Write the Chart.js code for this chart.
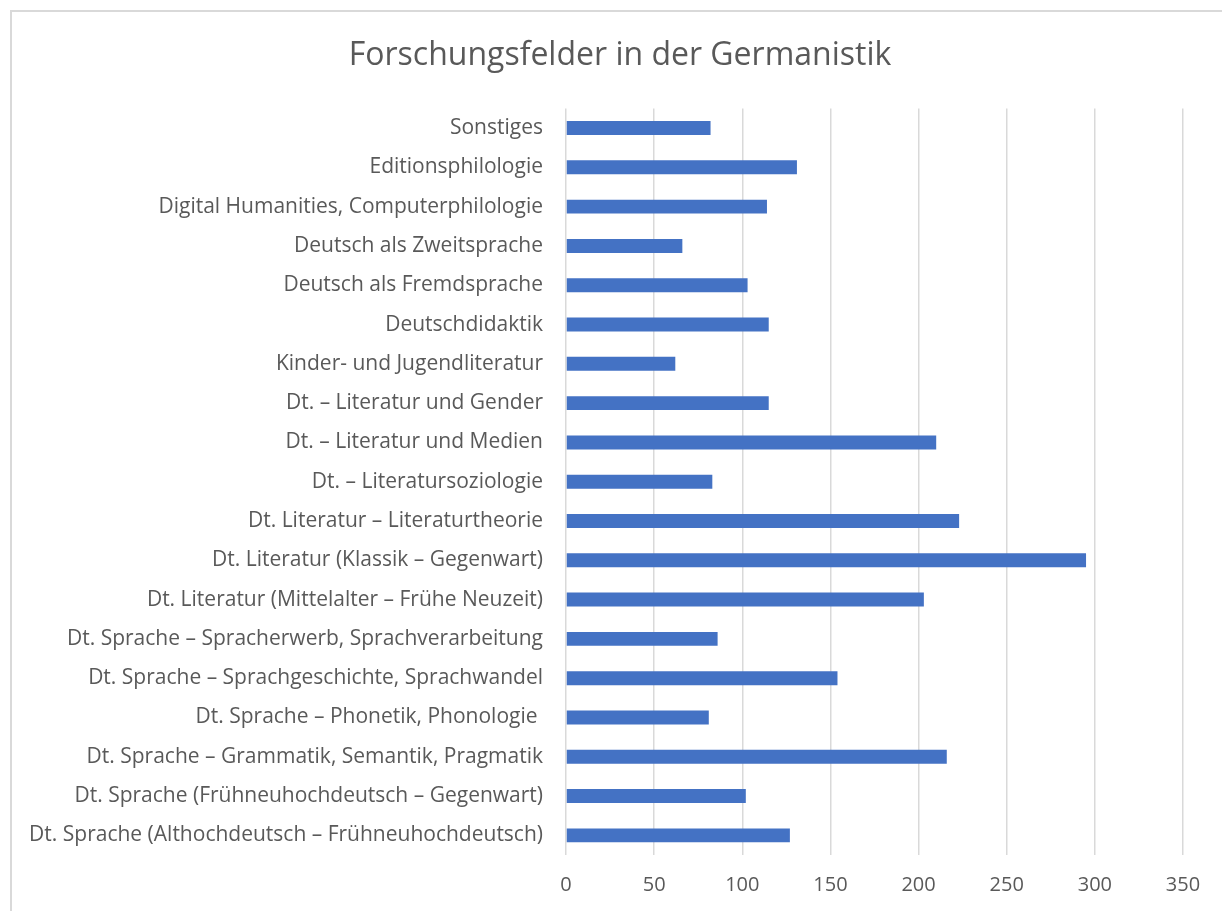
<!DOCTYPE html>
<html>
<head>
<meta charset="utf-8">
<script src="https://cdn.jsdelivr.net/npm/chart.js@4/dist/chart.umd.min.js"></script>
<style>
  html, body { margin: 0; padding: 0; background: #fff; overflow: hidden; }
  #wrap { position: absolute; left: 0; top: 0; width: 1222px; height: 911px; }
  #frame { position: absolute; left: 10px; top: 10px; width: 1240px; height: 940px; border-left: 2px solid #D9D9D9; border-top: 2px solid #D9D9D9; box-sizing: border-box; }
  canvas { position: absolute; left: 0; top: 0; }
</style>
</head>
<body>
<div id="wrap">
  <div id="frame"></div>
  <canvas id="c" width="1222" height="911"></canvas>
</div>
<script>
const title = "Forschungsfelder in der Germanistik";
const categories = [
  "Sonstiges",
  "Editionsphilologie",
  "Digital Humanities, Computerphilologie",
  "Deutsch als Zweitsprache",
  "Deutsch als Fremdsprache",
  "Deutschdidaktik",
  "Kinder- und Jugendliteratur",
  "Dt. – Literatur und Gender",
  "Dt. – Literatur und Medien",
  "Dt. – Literatursoziologie",
  "Dt. Literatur – Literaturtheorie",
  "Dt. Literatur (Klassik – Gegenwart)",
  "Dt. Literatur (Mittelalter – Frühe Neuzeit)",
  "Dt. Sprache – Spracherwerb, Sprachverarbeitung",
  "Dt. Sprache – Sprachgeschichte, Sprachwandel",
  "Dt. Sprache – Phonetik, Phonologie ",
  "Dt. Sprache – Grammatik, Semantik, Pragmatik",
  "Dt. Sprache (Frühneuhochdeutsch – Gegenwart)",
  "Dt. Sprache (Althochdeutsch – Frühneuhochdeutsch)"
];
const values = [82, 131, 114, 66, 103, 115, 62, 115, 210, 83, 223, 295, 203, 86, 154, 81, 216, 102, 127];
const xMin = 0, xMax = 350, xStep = 50;

const textColor = "#595959";
const gridColor = "#D9D9D9";
const barColor = "#4472C4";
const fontFamily = "'Open Sans', sans-serif";

// Center the title over the framed chart box rather than the padded chart area
const titleShift = {
  id: "titleShift",
  afterLayout(chart) {
    if (chart.titleBlock) {
      chart.titleBlock.left = 18;
      chart.titleBlock.right = 1222;
    }
  }
};

new Chart(document.getElementById("c"), {
  type: "bar",
  data: {
    labels: categories,
    datasets: [{
      data: values,
      backgroundColor: barColor,
      borderWidth: 0,
      barPercentage: 0.355,
      categoryPercentage: 1.0
    }]
  },
  plugins: [titleShift],
  options: {
    indexAxis: "y",
    responsive: false,
    animation: false,
    devicePixelRatio: 1,
    layout: { padding: { left: 0, right: 39, top: 0, bottom: 0 } },
    plugins: {
      legend: { display: false },
      tooltip: { enabled: false },
      title: {
        display: true,
        text: title,
        color: textColor,
        font: { family: fontFamily, size: 32, weight: "normal" },
        padding: { top: 37, bottom: 33 }
      }
    },
    scales: {
      x: {
        min: xMin, max: xMax,
        ticks: { stepSize: xStep, color: textColor, font: { family: fontFamily, size: 20 }, padding: 18 },
        grid: { color: gridColor, lineWidth: 1.5, drawTicks: false },
        border: { display: false },
        afterFit: (s) => { s.height = 56; }
      },
      y: {
        ticks: { color: textColor, font: { family: fontFamily, size: 21 }, padding: 23, autoSkip: false },
        grid: { display: false, drawTicks: false },
        border: { display: false },
        afterFit: (s) => { s.width = 566; }
      }
    }
  }
});
</script>
</body>
</html>
